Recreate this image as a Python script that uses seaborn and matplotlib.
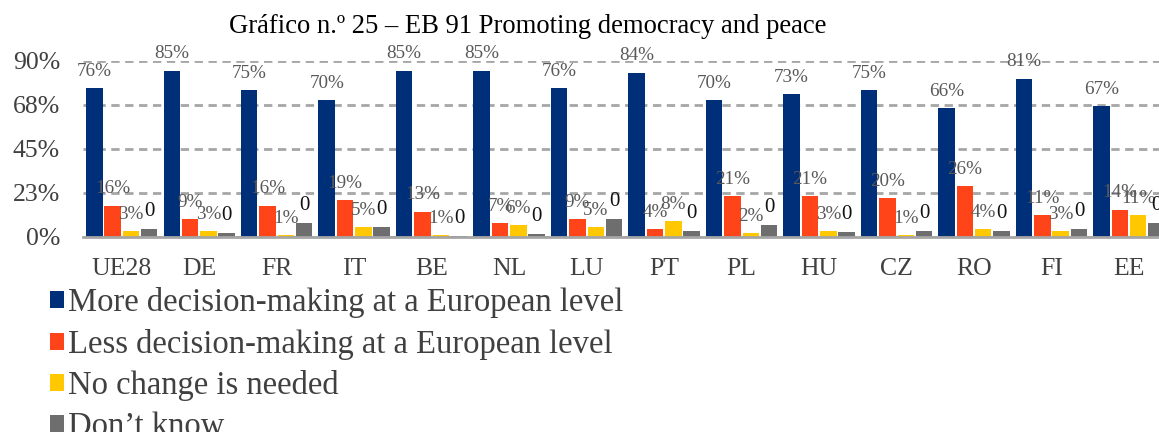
import pandas as pd
import matplotlib.pyplot as plt
import seaborn as sns

# ==============================================================================
# DATA
# ==============================================================================
countries = ['UE28', 'DE', 'FR', 'IT', 'BE', 'NL', 'LU', 'PT', 'PL', 'HU', 'CZ', 'RO', 'FI', 'EE']
series_names = ['More decision-making at a European level',
                'Less decision-making at a European level',
                'No change is needed',
                'Don\u2019t know']

more_eu = [76, 85, 75, 70, 85, 85, 76, 84, 70, 73, 75, 66, 81, 67]
less_eu = [16, 9, 16, 19, 13, 7, 9, 4, 21, 21, 20, 26, 11, 14]
no_change = [3, 3, 1, 5, 1, 6, 5, 8, 2, 3, 1, 4, 3, 11]
dont_know = [4, 2, 7, 5, 0.3, 1.4, 9, 3, 6, 2.4, 3, 3, 4, 7]

y_ticks = [0, 22.5, 45, 67.5, 90]
y_tick_labels = ['0%', '23%', '45%', '68%', '90%']

colors = ['#002F7A', '#FF4419', '#FFC800', '#6E6E6E']

# ==============================================================================
# BUILD LONG TABLE
# ==============================================================================
rows = []
for name, vals in zip(series_names, [more_eu, less_eu, no_change, dont_know]):
    for c, v in zip(countries, vals):
        rows.append({'Country': c, 'Series': name, 'Value': v})
df = pd.DataFrame(rows)

# ==============================================================================
# PLOT
# ==============================================================================
sns.set_style('white')
plt.rcParams['font.family'] = ['Liberation Serif', 'DejaVu Serif']

fig = plt.figure(figsize=(11.59, 4.32), dpi=100)
ax = fig.add_axes([0.0716, 0.4514, 0.936, 0.4074])

sns.barplot(data=df, x='Country', y='Value', hue='Series', order=countries,
            hue_order=series_names, palette=colors, width=0.945, gap=0.1,
            linewidth=0, saturation=1, ax=ax, legend=True)

# data labels: percentages in grey, "0" for the don't know series in black
for i, cont in enumerate(ax.containers):
    if i == 3:
        labels = ['0'] * len(countries)
        texts = ax.bar_label(cont, labels=labels, padding=6, fontsize=15, color='#111111')
    else:
        vals = [more_eu, less_eu, no_change][i]
        labels = [f'{v}%' for v in vals]
        texts = ax.bar_label(cont, labels=labels, padding=6, fontsize=13.8, color='#595959')
    for t in texts:
        t.set_clip_on(False)

ax.set_xlim(-0.5, 13.5)
ax.set_ylim(0, 90)
ax.set_yticks(y_ticks)
ax.set_yticklabels(y_tick_labels)
ax.set_xlabel('')
ax.set_ylabel('')
ax.tick_params(axis='y', length=0, pad=16.5, labelsize=18.5, labelcolor='#404040')
ax.tick_params(axis='x', length=0, pad=15, labelsize=18.5, labelcolor='#404040')

ax.grid(axis='y', color='#A6A6A6', linewidth=2, linestyle=(0, (3, 2)))
ax.set_axisbelow(True)
for s in ['left', 'right', 'top']:
    ax.spines[s].set_visible(False)
ax.spines['bottom'].set_color('#A6A6A6')
ax.spines['bottom'].set_linewidth(2)

fig.text(528 / 1159, 1 - 33 / 432, 'Gr\u00e1fico n.\u00ba 25 \u2013 EB 91 Promoting democracy and peace',
         ha='center', va='baseline', fontsize=19.2, color='black')

sns.move_legend(ax, 'upper left', bbox_to_anchor=(0.043, 0.335),
                bbox_transform=fig.transFigure, frameon=False, title=None,
                fontsize=23.5, labelcolor='#404040', handlelength=0.42,
                handleheight=0.42, handletextpad=0.15, labelspacing=0.32,
                borderpad=0, borderaxespad=0)

fig.savefig('out.png', dpi=100)
